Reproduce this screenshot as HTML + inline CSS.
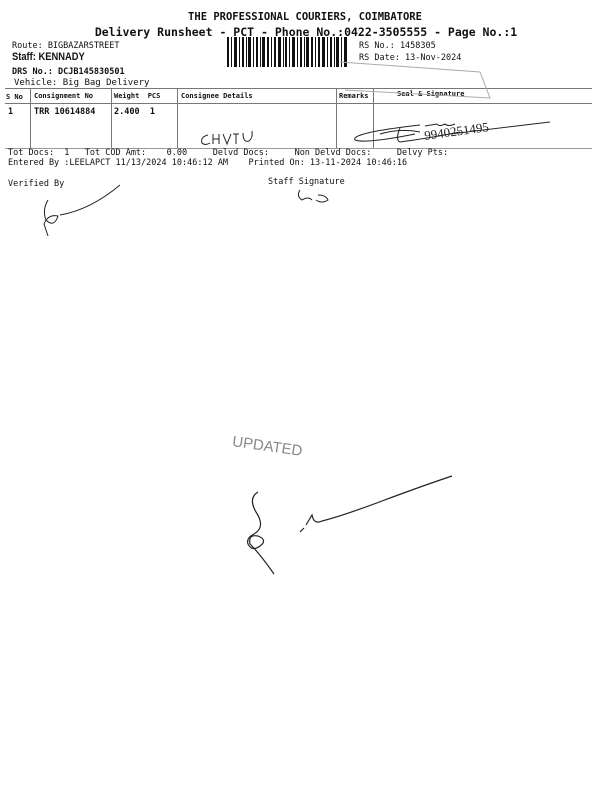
<!DOCTYPE html>
<html><head><meta charset="utf-8"><style>
body{margin:0;width:600px;height:800px;background:#fff;position:relative;overflow:hidden;font-family:"DejaVu Sans Mono","Liberation Mono",monospace;color:#111}
.t{position:absolute;white-space:nowrap;font-size:8.5px}
.b{font-weight:bold}
.ln{position:absolute;background:#777}
</style></head><body>
<div class="t b" style="left:0;width:610px;text-align:center;top:11px;font-size:10.5px">THE PROFESSIONAL COURIERS, COIMBATORE</div>
<div class="t b" style="left:0;width:612px;text-align:center;top:25px;font-size:11.5px">Delivery Runsheet - PCT - Phone No.:0422-3505555 - Page No.:1</div>
<div class="t" style="left:12px;top:41px">Route: BIGBAZARSTREET</div>
<div class="t b" style="left:12px;top:51px;font-size:11px;font-family:'Liberation Sans',sans-serif;transform:scaleX(0.85);transform-origin:left">Staff: KENNADY</div>
<div class="t b" style="left:12px;top:67px">DRS No.: DCJB145830501</div>
<div class="t" style="left:14px;top:78px;font-size:9px">Vehicle: Big Bag Delivery</div>
<svg style="position:absolute;left:227px;top:37px" width="122" height="32">
<g fill="#111">
<rect x="0" y="0" width="2" height="30"/><rect x="4" y="0" width="1" height="30"/><rect x="7" y="0" width="3" height="30"/><rect x="12" y="0" width="1" height="30"/><rect x="15" y="0" width="2" height="30"/><rect x="19" y="0" width="1" height="30"/><rect x="21" y="0" width="3" height="30"/><rect x="26" y="0" width="1" height="30"/><rect x="29" y="0" width="2" height="30"/><rect x="33" y="0" width="1" height="30"/><rect x="35" y="0" width="3" height="30"/><rect x="40" y="0" width="2" height="30"/><rect x="44" y="0" width="1" height="30"/><rect x="47" y="0" width="2" height="30"/><rect x="51" y="0" width="3" height="30"/><rect x="56" y="0" width="1" height="30"/><rect x="58" y="0" width="2" height="30"/><rect x="62" y="0" width="1" height="30"/><rect x="65" y="0" width="3" height="30"/><rect x="70" y="0" width="1" height="30"/><rect x="73" y="0" width="2" height="30"/><rect x="77" y="0" width="1" height="30"/><rect x="79" y="0" width="3" height="30"/><rect x="84" y="0" width="2" height="30"/><rect x="88" y="0" width="1" height="30"/><rect x="91" y="0" width="2" height="30"/><rect x="95" y="0" width="3" height="30"/><rect x="100" y="0" width="1" height="30"/><rect x="103" y="0" width="2" height="30"/><rect x="107" y="0" width="1" height="30"/><rect x="109" y="0" width="3" height="30"/><rect x="114" y="0" width="1" height="30"/><rect x="117" y="0" width="3" height="30"/>
</g></svg>
<div class="t" style="left:359px;top:41px">RS No.: 1458305</div>
<div class="t" style="left:359px;top:53px">RS Date: 13-Nov-2024</div>
<div class="ln" style="left:5px;top:88px;width:587px;height:1px"></div>
<div class="ln" style="left:5px;top:103px;width:587px;height:1px"></div>
<div class="ln" style="left:5px;top:148px;width:587px;height:1px;background:#999"></div>
<div class="ln" style="left:30px;top:88px;width:1px;height:60px"></div>
<div class="ln" style="left:111px;top:88px;width:1px;height:60px"></div>
<div class="ln" style="left:177px;top:88px;width:1px;height:60px"></div>
<div class="ln" style="left:336px;top:88px;width:1px;height:60px"></div>
<div class="ln" style="left:373px;top:88px;width:1px;height:60px"></div>
<div class="t b" style="left:6px;top:93px;font-size:7px">S No</div>
<div class="t b" style="left:34px;top:92px;font-size:7px">Consignment No</div>
<div class="t b" style="left:114px;top:92px;font-size:7px">Weight&nbsp; PCS</div>
<div class="t b" style="left:181px;top:92px;font-size:7px">Consignee Details</div>
<div class="t b" style="left:339px;top:92px;font-size:7px">Remarks</div>
<div class="t b" style="left:397px;top:90px;font-size:7px">Seal &amp; Signature</div>
<div class="t b" style="left:8px;top:107px">1</div>
<div class="t b" style="left:34px;top:107px">TRR 10614884</div>
<div class="t b" style="left:114px;top:107px">2.400&nbsp; 1</div>
<svg style="position:absolute;left:0;top:0" width="600" height="800" fill="none" stroke="#222" stroke-width="1">
<path d="M340 62 L480 72 L490 98 L345 90" stroke="#aaa"/>
<path d="M208 135 q-8 2 -6 8 q3 3 8 0 M213 134 l0 10 M219 134 l0 10 M213 139 l6 0 M223 134 l4 10 l4 -10 M233 134 l6 0 M236 134 l0 10 M243 133 q0 10 6 8 q4 -3 3 -10"/>
<path d="M420 125 q-70 8 -65 15 q10 4 60 -6 M380 134 q20 -6 40 -2 M400 128 q-5 12 0 14 q30 -4 60 -10 M425 126 l12 -2 q2 3 8 0 q3 3 10 0 M450 134 l100 -12"/>
<text x="425" y="140" font-size="13" font-family="Liberation Serif" stroke="none" fill="#222" transform="rotate(-8 425 140)">9940251495</text>
<path d="M48 200 q-6 10 -2 20 q8 8 12 -4 q-10 -2 -14 8 l4 12 M60 215 q30 -5 60 -30"/>
<path d="M300 190 q-4 6 2 10 q6 -4 10 0 M318 195 q8 0 10 5 q-6 4 -12 0"/>
<path d="M258 492 q-10 6 -2 20 q10 15 -2 22 q-8 4 -6 10 q4 8 12 2 q8 -6 -2 -10 q-10 -2 -8 8 q10 10 24 30 M300 532 l4 -4 M306 525 l6 -10 q2 10 10 6 q20 -5 60 -20 q40 -15 70 -25" stroke-width="1.2"/>
</svg>
<div class="t" style="left:8px;top:148px">Tot Docs:&nbsp; 1&nbsp;&nbsp; Tot COD Amt:&nbsp;&nbsp;&nbsp; 0.00&nbsp;&nbsp;&nbsp;&nbsp; Delvd Docs:&nbsp;&nbsp;&nbsp;&nbsp; Non Delvd Docs:&nbsp;&nbsp;&nbsp;&nbsp; Delvy Pts:</div>
<div class="t" style="left:8px;top:158px">Entered By :LEELAPCT 11/13/2024 10:46:12 AM&nbsp;&nbsp;&nbsp; Printed On: 13-11-2024 10:46:16</div>
<div class="t" style="left:8px;top:179px">Verified By</div>
<div class="t" style="left:268px;top:177px">Staff Signature</div>
<div class="t" style="left:232px;top:438px;font-size:15px;color:#888;font-family:'Liberation Sans',sans-serif;transform:rotate(8deg)">UPDATED</div>
</body></html>
